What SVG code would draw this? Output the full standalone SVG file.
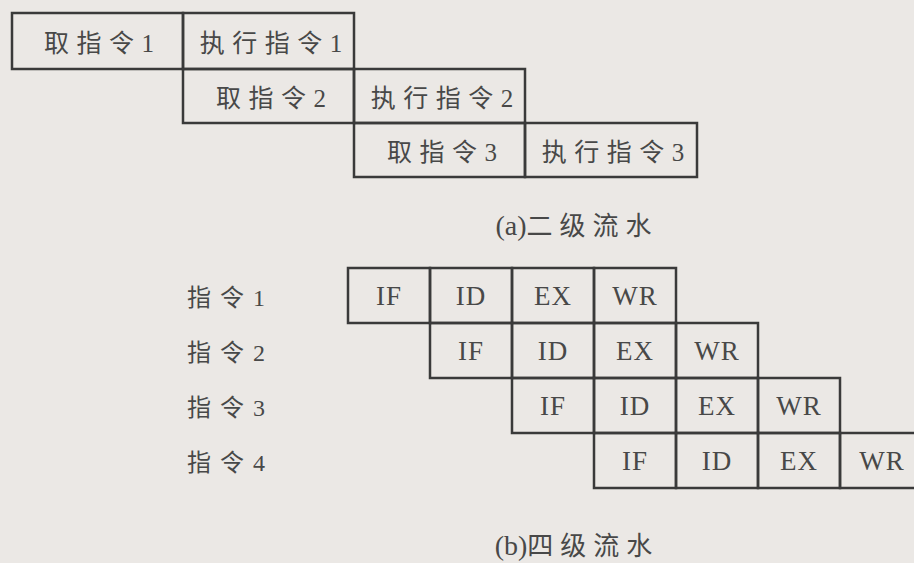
<svg xmlns="http://www.w3.org/2000/svg" width="914" height="563" viewBox="0 0 914 563">
<style>
.bg{fill:#ebe8e5}
.box{fill:none;stroke:#3a3a3a;stroke-width:2.5}
.t{fill:#484848;text-anchor:middle}
.cj{font-family:"Noto Sans CJK SC",sans-serif;font-size:25px;letter-spacing:7.5px}
.n{font-family:"Liberation Serif",serif;letter-spacing:0}
.st{font-family:"Liberation Serif",serif;font-size:27px;letter-spacing:1px}
.lb{fill:#484848;font-family:"Noto Sans CJK SC",sans-serif;font-size:24px;letter-spacing:9px}
.cap{font-family:"Noto Sans CJK SC",sans-serif;font-size:26px;letter-spacing:7px}
.cn{font-family:"Liberation Serif",serif;font-size:28px;letter-spacing:0}
</style>
<rect class="bg" x="0" y="0" width="914" height="563"/>
<g id="part-a">
<g id="a-fetch1"><rect class="box" x="12" y="13" width="171" height="56"/><text class="t cj" x="99" y="52">取指令<tspan class="n">1</tspan></text></g>
<g id="a-exec1"><rect class="box" x="183" y="13" width="171" height="56"/><text class="t cj" x="271" y="52">执行指令<tspan class="n">1</tspan></text></g>
<g id="a-fetch2"><rect class="box" x="183" y="69" width="171" height="54"/><text class="t cj" x="271" y="107">取指令<tspan class="n">2</tspan></text></g>
<g id="a-exec2"><rect class="box" x="354" y="69" width="171" height="54"/><text class="t cj" x="442" y="107">执行指令<tspan class="n">2</tspan></text></g>
<g id="a-fetch3"><rect class="box" x="354" y="123" width="171" height="54"/><text class="t cj" x="442" y="161">取指令<tspan class="n">3</tspan></text></g>
<g id="a-exec3"><rect class="box" x="525" y="123" width="172" height="54"/><text class="t cj" x="613" y="161">执行指令<tspan class="n">3</tspan></text></g>
<text id="cap-a" class="t cap" x="577" y="235"><tspan class="cn">(a)</tspan>二级流水</text>
</g>
<g id="part-b">
<text class="lb" x="187" y="306">指令<tspan class="n">1</tspan></text>
<text class="lb" x="187" y="361">指令<tspan class="n">2</tspan></text>
<text class="lb" x="187" y="416">指令<tspan class="n">3</tspan></text>
<text class="lb" x="187" y="471">指令<tspan class="n">4</tspan></text>
<g id="r1">
<g id="r1-if"><rect class="box" x="348" y="268" width="82" height="55"/><text class="t st" x="389" y="305">IF</text></g>
<g id="r1-id"><rect class="box" x="430" y="268" width="82" height="55"/><text class="t st" x="471" y="305">ID</text></g>
<g id="r1-ex"><rect class="box" x="512" y="268" width="82" height="55"/><text class="t st" x="553" y="305">EX</text></g>
<g id="r1-wr"><rect class="box" x="594" y="268" width="82" height="55"/><text class="t st" x="635" y="305">WR</text></g>
</g>
<g id="r2">
<g id="r2-if"><rect class="box" x="430" y="323" width="82" height="55"/><text class="t st" x="471" y="360">IF</text></g>
<g id="r2-id"><rect class="box" x="512" y="323" width="82" height="55"/><text class="t st" x="553" y="360">ID</text></g>
<g id="r2-ex"><rect class="box" x="594" y="323" width="82" height="55"/><text class="t st" x="635" y="360">EX</text></g>
<g id="r2-wr"><rect class="box" x="676" y="323" width="82" height="55"/><text class="t st" x="717" y="360">WR</text></g>
</g>
<g id="r3">
<g id="r3-if"><rect class="box" x="512" y="378" width="82" height="55"/><text class="t st" x="553" y="415">IF</text></g>
<g id="r3-id"><rect class="box" x="594" y="378" width="82" height="55"/><text class="t st" x="635" y="415">ID</text></g>
<g id="r3-ex"><rect class="box" x="676" y="378" width="82" height="55"/><text class="t st" x="717" y="415">EX</text></g>
<g id="r3-wr"><rect class="box" x="758" y="378" width="82" height="55"/><text class="t st" x="799" y="415">WR</text></g>
</g>
<g id="r4">
<g id="r4-if"><rect class="box" x="594" y="433" width="82" height="55"/><text class="t st" x="635" y="470">IF</text></g>
<g id="r4-id"><rect class="box" x="676" y="433" width="82" height="55"/><text class="t st" x="717" y="470">ID</text></g>
<g id="r4-ex"><rect class="box" x="758" y="433" width="82" height="55"/><text class="t st" x="799" y="470">EX</text></g>
<g id="r4-wr"><rect class="box" x="840" y="433" width="82" height="55"/><text class="t st" x="882" y="470">WR</text></g>
</g>
<text id="cap-b" class="t cap" x="577" y="555"><tspan class="cn">(b)</tspan>四级流水</text>
</g>
</svg>
